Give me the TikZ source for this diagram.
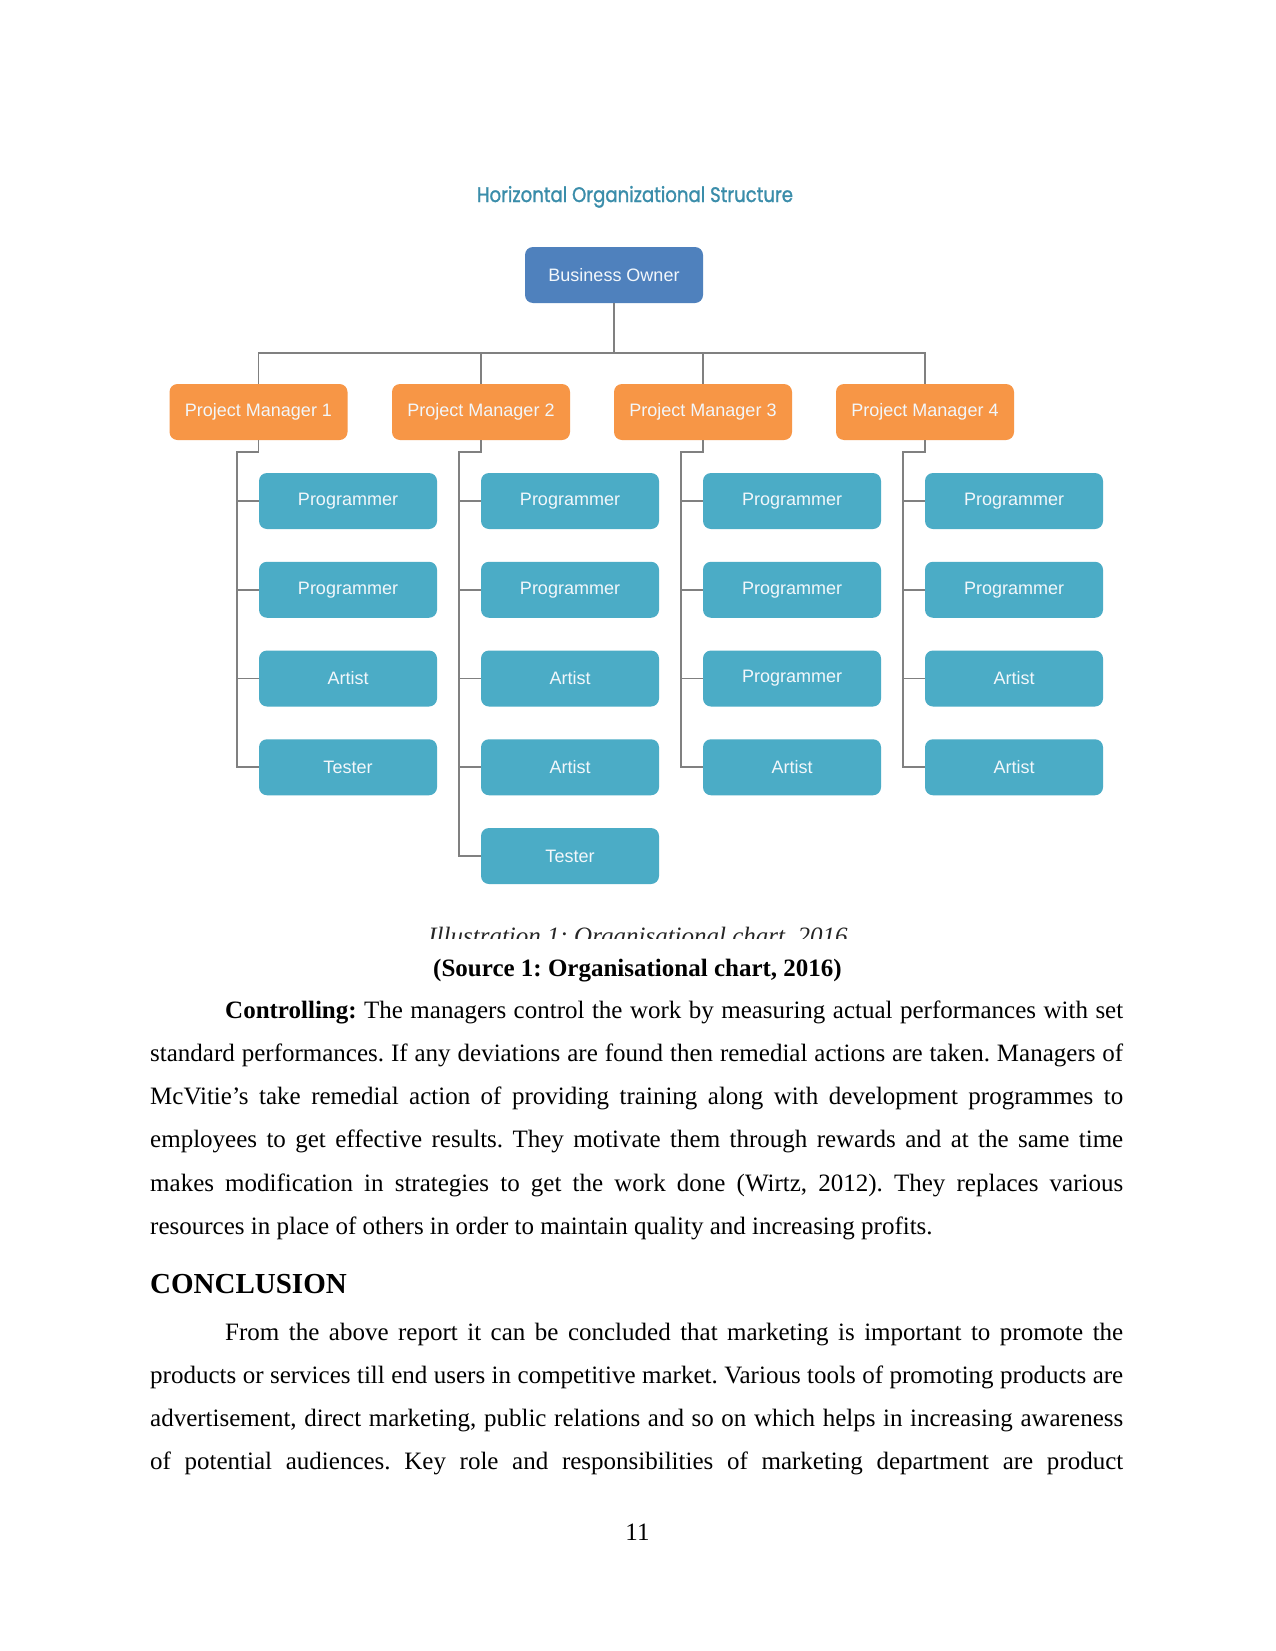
\documentclass[tikz,border=0pt]{standalone}
\usepackage{fontspec}
\setmainfont{Liberation Serif}
\newfontfamily\boxfont{Liberation Sans}
\newfontfamily\titlefont[FakeBold=1.3]{Poppins}
\usetikzlibrary{calc}
\frenchspacing
\definecolor{ownerblue}{HTML}{4F81BD}
\definecolor{mgrorange}{HTML}{F79646}
\definecolor{empaqua}{HTML}{4BACC6}
\definecolor{connGray}{HTML}{808080}
\definecolor{titleTeal}{HTML}{3A8DAA}
\definecolor{boxText}{HTML}{F2F7FB}
\tikzset{
  orgbox/.style={rounded corners=8pt, minimum width=178pt, minimum height=56pt, inner sep=0pt,
    text=boxText, font=\boxfont\fontsize{18}{20}\selectfont},
  ownerbox/.style={orgbox, fill=ownerblue},
  mgrbox/.style={orgbox, fill=mgrorange},
  empbox/.style={orgbox, fill=empaqua},
  link/.style={draw=connGray, line width=1.6pt},
  bodyline/.style={anchor=base west, inner sep=0pt, font=\frenchspacing\fontsize{25}{30}\selectfont},
}
\begin{document}
\frenchspacing
\begin{tikzpicture}[x=1pt,y=-1pt]
\useasboundingbox (0,0) rectangle (1275,1651);
\fill[white] (0,0) rectangle (1275,1651);

% title
\node[anchor=base, inner sep=0pt, text=titleTeal] (title) at (635,202)
  {\resizebox{316pt}{16pt}{\titlefont Horizontal Organizational Structure}};

% top
\node[ownerbox] (bo) at (614,275) {Business Owner};
\node[mgrbox] (pm1) at (258.5,412) {Project Manager 1};
\node[mgrbox] (pm2) at (481,412) {Project Manager 2};
\node[mgrbox] (pm3) at (703,412) {Project Manager 3};
\node[mgrbox] (pm4) at (925,412) {Project Manager 4};

\coordinate (hb) at (614,353);
\draw[link] (bo.south) -- (hb);
\draw[link] (pm1.north) |- (hb) -| (pm4.north);
\draw[link] (pm2.north) -- (pm2.north |- hb);
\draw[link] (pm3.north) -- (pm3.north |- hb);

% employees
\def\rowA{501}\def\rowB{589.75}\def\rowC{678.5}\def\rowD{767.25}\def\rowE{856}
% column 1
\node[empbox] (e11) at (348,\rowA) {Programmer};
\node[empbox] (e12) at (348,\rowB) {Programmer};
\node[empbox] (e13) at (348,\rowC) {Artist};
\node[empbox] (e14) at (348,\rowD) {Tester};
% column 2
\node[empbox] (e21) at (570,\rowA) {Programmer};
\node[empbox] (e22) at (570,\rowB) {Programmer};
\node[empbox] (e23) at (570,\rowC) {Artist};
\node[empbox] (e24) at (570,\rowD) {Artist};
\node[empbox] (e25) at (570,\rowE) {Tester};
% column 3
\node[empbox] (e31) at (792,\rowA) {Programmer};
\node[empbox] (e32) at (792,\rowB) {Programmer};
\node[empbox] (e33) at (792,\rowC) {Programmer};
\node[empbox] (e34) at (792,\rowD) {Artist};
% column 4
\node[empbox] (e41) at (1014,\rowA) {Programmer};
\node[empbox] (e42) at (1014,\rowB) {Programmer};
\node[empbox] (e43) at (1014,\rowC) {Artist};
\node[empbox] (e44) at (1014,\rowD) {Artist};

\coordinate (s1) at (237,452);
\coordinate (s2) at (459,452);
\coordinate (s3) at (681,452);
\coordinate (s4) at (903,452);

\draw[link] (pm1.south) |- (s1) |- (e14.west);
\foreach \e in {e11,e12,e13} \draw[link] (s1 |- \e.west) -- (\e.west);
\draw[link] (pm2.south) |- (s2) |- (e25.west);
\foreach \e in {e21,e22,e23,e24} \draw[link] (s2 |- \e.west) -- (\e.west);
\draw[link] (pm3.south) |- (s3) |- (e34.west);
\foreach \e in {e31,e32,e33} \draw[link] (s3 |- \e.west) -- (\e.west);
\draw[link] (pm4.south) |- (s4) |- (e44.west);
\foreach \e in {e41,e42,e43} \draw[link] (s4 |- \e.west) -- (\e.west);

% clipped caption
\begin{scope}
  \clip (0,900) rectangle (1275,938);
  \node[anchor=base, inner sep=0pt, text=black!85, font=\itshape\fontsize{25}{30}\selectfont] (cap) at (638,944)
    {Illustration 1: Organisational chart, 2016};
\end{scope}

\node[anchor=base, inner sep=0pt, font=\frenchspacing\bfseries\fontsize{25}{30}\selectfont] (src) at (637.5,976)
  {(Source 1: Organisational chart, 2016)};

% paragraph 1
\node[bodyline] (p1) at (225,1018) {\makebox[898pt][s]{\textbf{Controlling:} The managers control the work by measuring actual performances with set}};
\node[bodyline] (p2) at (150,1061.3) {\makebox[973pt][s]{standard performances. If any deviations are found then remedial actions are taken. Managers of}};
\node[bodyline] (p3) at (150,1104.6) {\makebox[973pt][s]{McVitie's take remedial action of providing training along with development programmes to}};
\node[bodyline] (p4) at (150,1147.9) {\makebox[973pt][s]{employees to get effective results. They motivate them through rewards and at the same time}};
\node[bodyline] (p5) at (150,1191.2) {\makebox[973pt][s]{makes modification in strategies to get the work done (Wirtz, 2012). They replaces various}};
\node[bodyline] (p6) at (150,1234.5) {resources in place of others in order to maintain quality and increasing profits.};

% conclusion
\node[anchor=base west, inner sep=0pt, font=\bfseries\fontsize{29}{33}\selectfont] (concl) at (150,1293) {CONCLUSION};
\node[bodyline] (q1) at (225,1340) {\makebox[898pt][s]{From the above report it can be concluded that marketing is important to promote the}};
\node[bodyline] (q2) at (150,1383.3) {\makebox[973pt][s]{products or services till end users in competitive market. Various tools of promoting products are}};
\node[bodyline] (q3) at (150,1426.6) {\makebox[973pt][s]{advertisement, direct marketing, public relations and so on which helps in increasing awareness}};
\node[bodyline] (q4) at (150,1469.9) {\makebox[973pt][s]{of potential audiences. Key role and responsibilities of marketing department are product}};

\node[anchor=base, inner sep=0pt, font=\fontsize{25}{30}\selectfont] (pg) at (637.5,1540) {11};
\end{tikzpicture}
\end{document}
